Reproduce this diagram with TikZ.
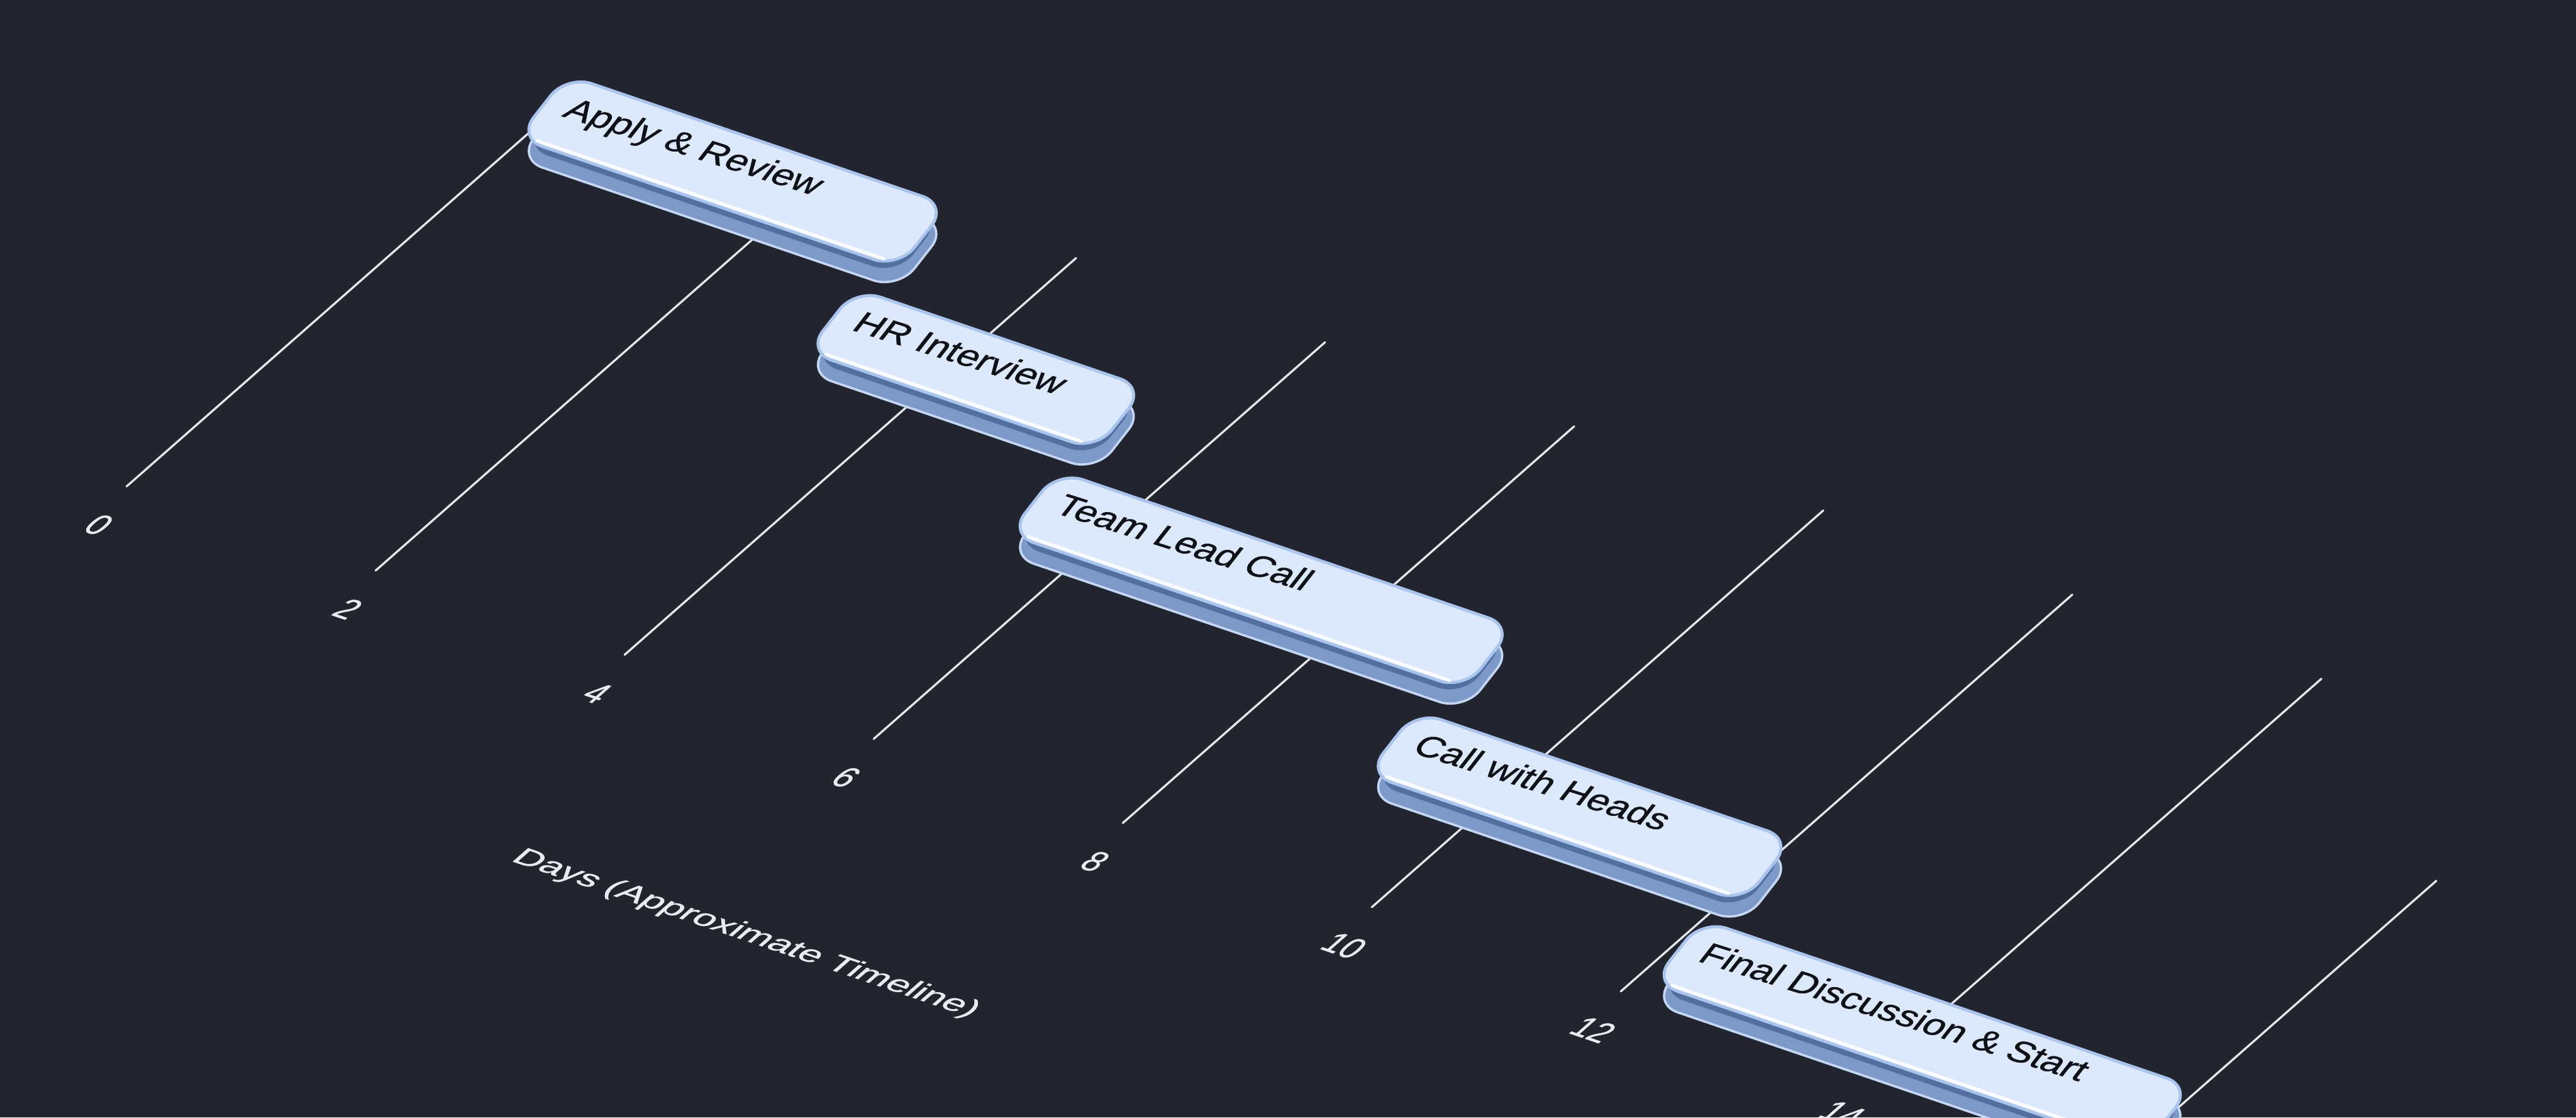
\documentclass[tikz,border=0pt]{standalone}
\usepackage{fontspec}
\setmainfont{Liberation Sans}
\newfontfamily\medsans[FakeBold=0.9]{Liberation Sans}
\definecolor{bgc}{HTML}{22252E}
\definecolor{gridc}{HTML}{E4E7EE}
\definecolor{labelc}{HTML}{E9EBF1}
\definecolor{barfacec}{HTML}{DCE8FB}
\definecolor{barrimc}{HTML}{A9C5EE}
\definecolor{barsidec}{HTML}{52709F}
\definecolor{barsidelo}{HTML}{7D99C7}
\definecolor{barshellc}{HTML}{C4D8F6}
\definecolor{bartextc}{HTML}{0E1116}
\tikzset{
  gridline/.style={draw=gridc, line width=0.32mm, line cap=round},
  barshape/.style={rounded corners=4mm},
  barbase/.style={barshape, fill=barsidelo, draw=barshellc, line width=0.35mm},
  barmid/.style={barshape, fill=barsidec},
  barface/.style={barshape, fill=barfacec, draw=barrimc, line width=0.45mm},
  barshine/.style={draw=white, line width=0.5mm, line cap=round, opacity=0.9},
  bartext/.style={transform shape, inner sep=0pt, anchor=base west, text=bartextc, font=\medsans\fontsize{10}{12}\selectfont},
  daytext/.style={transform shape, inner sep=0pt, text=labelc, font=\medsans\fontsize{10}{12}\selectfont},
  axistext/.style={transform shape, inner sep=0pt, anchor=base west, text=labelc, font=\medsans\fontsize{10}{12}\selectfont},
}
\newcommand\ganttbar[5]{%
  \begin{scope}[shift={(#2,#3)}, x={(0.23665mm,-0.08058mm)}, y={(0.15393mm,0.19700mm)}]
    \path[barbase, yshift=-3.2mm] (0,0) -- (#4,0) -- (#4,48.6) -- (0,48.6) -- cycle;
    \path[barmid, yshift=-1.6mm] (2,2) -- ({#4-2},2) -- ({#4-2},46) -- (2,46) -- cycle;
    \path[barface] (0,0) -- (#4,0) -- (#4,48.6) -- (0,48.6) -- cycle;
    \draw[barshine] (11,2.4) -- ({#4-11},2.4);
    \coordinate (#1-t) at (13,22.5);
  \end{scope}
  \begin{scope}[cm={1.560,-0.492,0.900,1.152,(#1-t)}]
    \node[bartext] (#1) at (0,0) {#5};
  \end{scope}
}
\begin{document}
\begin{tikzpicture}[x=0.25mm,y=-0.25mm]
\fill[bgc] (0,0) rectangle (1568,680);
\useasboundingbox (0,0) rectangle (1568,680);
\clip (0,0) rectangle (1568,680);
% grid lines
\foreach \k/\f in {0/0.92,1/1,2/1,3/1,4/1,5/1,6/1,7/1,8/0.703}{
  \coordinate (g\k b) at ({77+151.6*\k},{296+51.2*\k});
  \coordinate (g\k t) at ({77+151.6*\k+274.8*\f},{296+51.2*\k-241.4*\f});
  \draw[gridline] (g\k b) -- (g\k t);
}
% day labels
\foreach \k in {0,...,7}{
  \pgfmathtruncatemacro\dval{2*\k}
  \coordinate (lab\k) at ({60.2+151.6*\k},{319.3+51.2*\k});
  \begin{scope}[cm={1.280,-0.436,1.200,1.057,(lab\k)}]
    \node[daytext] (day\k) at (0,0) {\dval};
  \end{scope}
}
% axis title
\coordinate (axisbase) at (310,523.5);
\begin{scope}[cm={1.549,-0.527,0.960,0.846,(axisbase)}]
  \node[axistext] (axistitle) at (0,0) {Days (Approximate Timeline)};
\end{scope}
% bars
\ganttbar{apply}{315}{84}{245}{Apply \& Review}
\ganttbar{hr}{491}{214}{186}{HR Interview}
\ganttbar{team}{614}{325}{293}{Team Lead Call}
\ganttbar{heads}{832}{471}{242}{Call with Heads}
\ganttbar{final}{1006}{598}{315}{Final Discussion \& Start}
\end{tikzpicture}
\end{document}
